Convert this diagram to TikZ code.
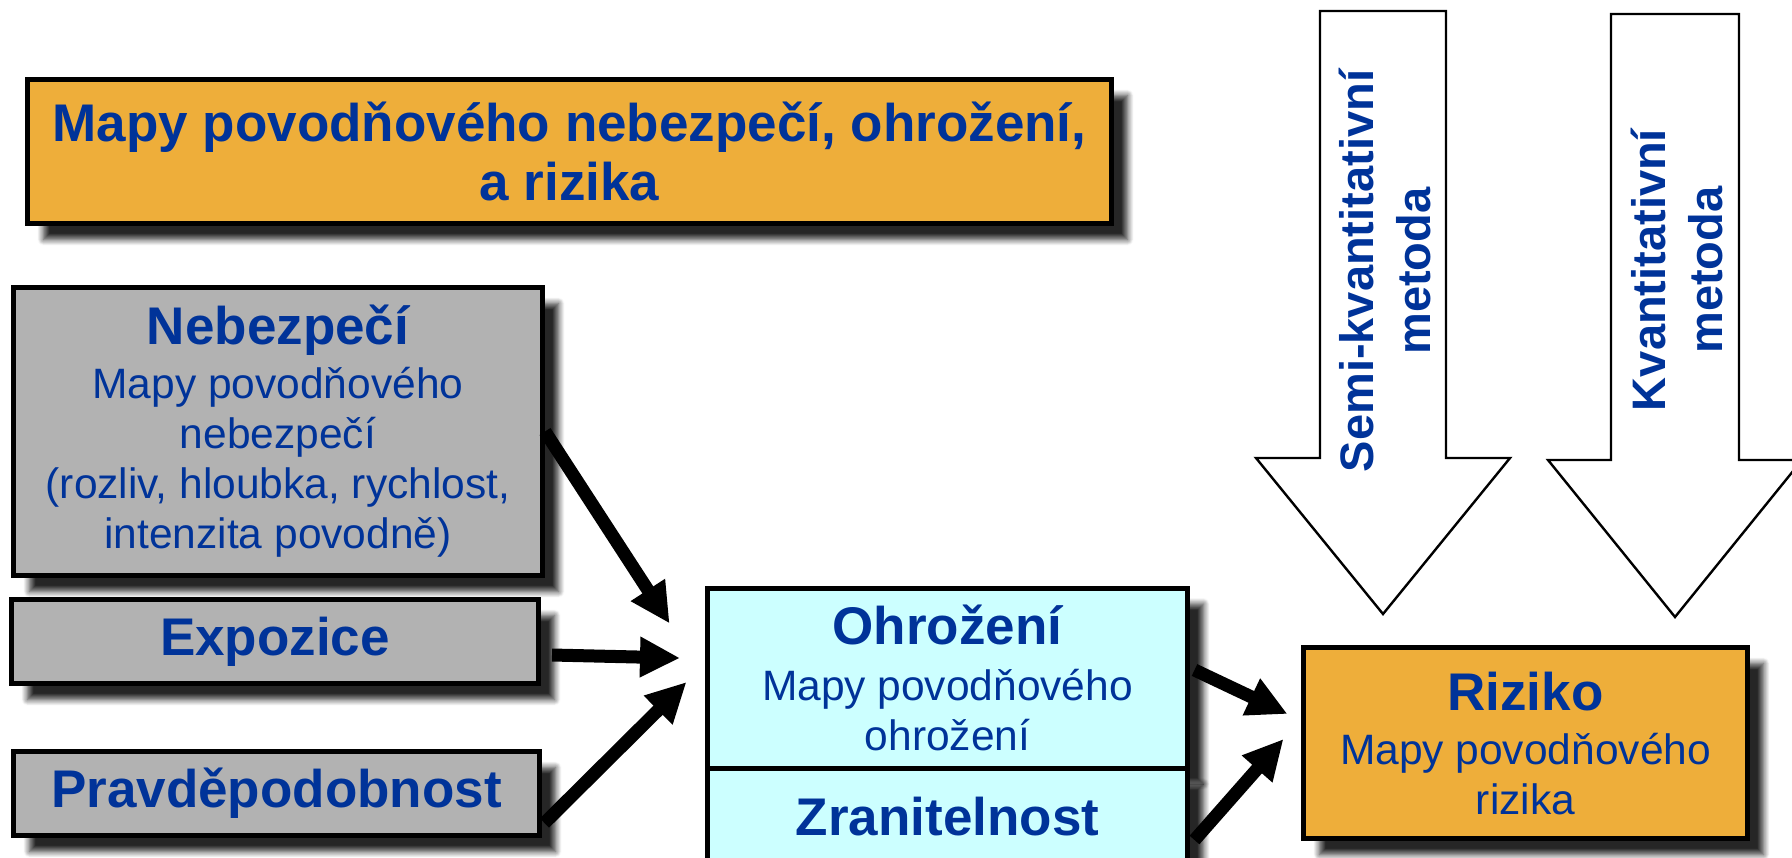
\documentclass[tikz,border=0pt]{standalone}
\usepackage{fontspec}
\setmainfont{Liberation Sans}
\usetikzlibrary{arrows.meta,calc,shadows.blur}
\definecolor{tblue}{RGB}{0,51,153}
\definecolor{orangebox}{RGB}{238,174,58}
\definecolor{graybox}{RGB}{178,178,178}
\definecolor{cyanbox}{RGB}{204,255,255}
\newcommand{\hdfont}{\fontsize{26.5}{29.5}\selectfont\bfseries}
\newcommand{\bdfont}{\fontsize{21.25}{25}\selectfont}
\newcommand{\vtfont}{\fontsize{23.5}{28.5}\selectfont\bfseries}
\begin{document}
\begin{tikzpicture}[x=0.5pt, y=-0.5pt,
  myshadow/.style={blur shadow={shadow xshift=8pt, shadow yshift=-8pt, shadow blur radius=3pt, shadow opacity=85, shadow blur steps=10}},
  boxstyle/.style={draw=black, line width=2.5pt, text=tblue, align=center, inner sep=0pt, font=\bdfont, myshadow},
  conn/.style={draw=black, line width=6.5pt, -{Triangle[length=20pt, width=19pt]}},
  bigarrow/.style={draw=black, line width=1.2pt, fill=white},
  vtext/.style={rotate=90, text=tblue, align=center, font=\vtfont, inner sep=0pt}]
\useasboundingbox (0,0) rectangle (1792,857);

% title
\node[boxstyle, fill=orangebox, minimum width=542pt, minimum height=72pt, font=\hdfont] (title) at (569.5,151.5)
  {Mapy povodňového nebezpečí, ohrožení,\\a rizika};

% left boxes
\node[boxstyle, fill=graybox, minimum width=264.5pt, minimum height=144pt] (neb) at (278,431.5)
  {{\hdfont Nebezpečí}\\[2pt]Mapy povodňového\\nebezpečí\\(rozliv, hloubka, rychlost,\\intenzita povodně)};
\node[boxstyle, fill=graybox, minimum width=263.5pt, minimum height=42pt, font=\hdfont] (expo) at (275,641.5) {Expozice};
\node[boxstyle, fill=graybox, minimum width=263pt, minimum height=42pt, font=\hdfont] (prav) at (276.5,793.5) {Pravděpodobnost};

% middle boxes
\node[boxstyle, fill=cyanbox, minimum width=240pt, minimum height=90pt] (ohr) at (947.5,678)
  {{\hdfont Ohrožení}\\[3pt]Mapy povodňového\\ohrožení};
\node[boxstyle, fill=cyanbox, minimum width=240pt, minimum height=49pt, font=\hdfont] (zran) at (947.5,817) {Zranitelnost};

% right box
\node[boxstyle, fill=orangebox, minimum width=222pt, minimum height=95.5pt] (riz) at (1525.5,743)
  {{\hdfont Riziko}\\[2pt]Mapy povodňového\\rizika};

% big arrows
\draw[bigarrow] (1320,11) -- (1446,11) -- (1446,458) -- (1510,458) -- (1383,614) -- (1256,458) -- (1320,458) -- cycle;
\draw[bigarrow] (1611,14) -- (1739,14) -- (1739,460) -- (1802,460) -- (1675,617) -- (1548,460) -- (1611,460) -- cycle;
\node[vtext] (semi) at (1385,271) {Semi-kvantitativní\\metoda};
\node[vtext] (kvant) at (1677,270) {Kvantitativní\\metoda};

% connectors
\draw[conn, shorten >=32.5pt] (neb.east) -- (ohr.west);
\draw[conn] ($(expo.east)+(11,13.5)$) -- ($(ohr.west)+(-25,-20)$);
\draw[conn] ($(prav.east)+(2.5,29.5)$) -- ($(ohr.west)+(-18.5,4)$);
\draw[conn] ($(ohr.east)+(4.5,-8)$) -- ($(riz.west)+(-13.5,-29)$);
\draw[conn] ($(zran.east)+(4.5,23)$) -- ($(riz.west)+(-17.5,-4)$);
\end{tikzpicture}
\end{document}
